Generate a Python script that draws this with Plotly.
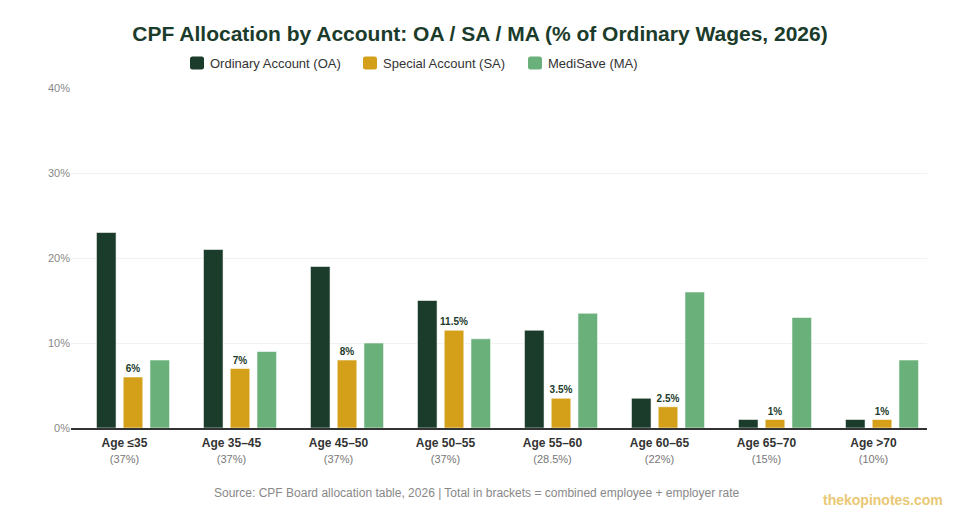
import plotly.graph_objects as go

age_groups = ["Age ≤35", "Age 35–45", "Age 45–50", "Age 50–55", "Age 55–60", "Age 60–65", "Age 65–70", "Age >70"]
total_rates = ["37%", "37%", "37%", "37%", "28.5%", "22%", "15%", "10%"]
oa_values = [23, 21, 19, 15, 11.5, 3.5, 1, 1]
sa_values = [6, 7, 8, 11.5, 3.5, 2.5, 1, 1]
ma_values = [8, 9, 10, 10.5, 13.5, 16, 13, 8]
sa_labels = ["6%", "7%", "8%", "11.5%", "3.5%", "2.5%", "1%", "1%"]
y_ticks = [0, 10, 20, 30, 40]
y_tick_labels = ["0%", "10%", "20%", "30%", "40%"]
series_names = ["Ordinary Account (OA)", "Special Account (SA)", "MediSave (MA)"]

FONT = "Liberation Sans, Arial, sans-serif"
C_OA = "#1b3b2b"
C_SA = "#d4a01a"
C_MA = "#6ab07b"
series_colors = [C_OA, C_SA, C_MA]

# plot area in pixels
L, R, T, B = 71, 927, 88, 428
W, H = 960, 520


def px(x):
    return (x - L) / (R - L)


def py(y):
    return (B - y) / (B - T)


tick_text = [f"<b>{a}</b><br><span style='font-size:11px;color:#777'>({t})</span>"
             for a, t in zip(age_groups, total_rates)]

bar_width = 0.183
offsets = [-0.262, -0.012, 0.238]
line = dict(color="rgba(255,255,255,0.55)", width=1)

fig = go.Figure()
fig.add_bar(name=series_names[0], x=age_groups, y=oa_values, width=bar_width, offset=offsets[0],
            marker=dict(color=C_OA, line=line), hoverinfo="skip")
fig.add_bar(name=series_names[1], x=age_groups, y=sa_values, width=bar_width, offset=offsets[1],
            marker=dict(color=C_SA, line=line),
            text=sa_labels, textposition="outside", cliponaxis=False, constraintext="none",
            textangle=0,
            textfont=dict(family=FONT, size=10, color=C_OA, weight="bold"),
            hoverinfo="skip")
fig.add_bar(name=series_names[2], x=age_groups, y=ma_values, width=bar_width, offset=offsets[2],
            marker=dict(color=C_MA, line=line), hoverinfo="skip")

fig.update_layout(
    width=W, height=H,
    margin=dict(l=L, r=W - R, t=T, b=H - B),
    paper_bgcolor="white", plot_bgcolor="white",
    font=dict(family=FONT, color="#333"),
    title=dict(text="<b>CPF Allocation by Account: OA / SA / MA (% of Ordinary Wages, 2026)</b>",
               x=0.5, xanchor="center", xref="container", y=1 - 34 / H, yanchor="middle",
               yref="container",
               font=dict(family=FONT, size=21, color="#1b3b2b")),
    barmode="overlay",
    showlegend=False,
    xaxis=dict(tickmode="array", tickvals=age_groups, ticktext=tick_text,
               tickfont=dict(family=FONT, size=12, color="#333"),
               showline=True, linecolor="#333", linewidth=2, ticks="",
               ticklabelstandoff=3,
               showgrid=False, fixedrange=True),
    yaxis=dict(range=[0, 40], tickmode="array", tickvals=y_ticks, ticktext=y_tick_labels,
               tickfont=dict(family=FONT, size=11, color="#888"),
               showgrid=True, gridcolor="#f1f1f1", gridwidth=1,
               zeroline=False, showline=False, ticks="", fixedrange=True),
)


def rounded_rect_path(x0, y0, x1, y1, r):
    # pixel coords -> paper coords path with rounded corners
    pts = []
    def P(x, y):
        return f"{px(x)},{py(y)}"
    return (f"M {P(x0 + r, y0)} L {P(x1 - r, y0)} Q {P(x1, y0)} {P(x1, y0 + r)} "
            f"L {P(x1, y1 - r)} Q {P(x1, y1)} {P(x1 - r, y1)} "
            f"L {P(x0 + r, y1)} Q {P(x0, y1)} {P(x0, y1 - r)} "
            f"L {P(x0, y0 + r)} Q {P(x0, y0)} {P(x0 + r, y0)} Z")


# manual legend
legend_x = [190, 363, 528]
legend_y = 63
for name, color, lx in zip(series_names, series_colors, legend_x):
    fig.add_shape(type="path", xref="paper", yref="paper",
                  path=rounded_rect_path(lx, legend_y - 6.5, lx + 14, legend_y + 6.5, 2.5),
                  fillcolor=color, line=dict(width=0))
    fig.add_annotation(text=name, xref="paper", yref="paper", x=px(lx + 18), y=py(legend_y),
                       xanchor="left", yanchor="middle", showarrow=False,
                       font=dict(family=FONT, size=13, color="#333"))

fig.add_annotation(text="Source: CPF Board allocation table, 2026 | Total in brackets = combined employee + employer rate",
                   xref="paper", yref="paper", x=px(477), y=py(493), xanchor="center", yanchor="middle",
                   showarrow=False, font=dict(family=FONT, size=12, color="#888"))
fig.add_annotation(text="<b>thekopinotes.com</b>",
                   xref="paper", yref="paper", x=px(945), y=py(500), xanchor="right", yanchor="middle",
                   showarrow=False, font=dict(family=FONT, size=14, color="#e9c874"))

fig.write_html("out.html", config={"displayModeBar": False},
               post_script="document.body.style.margin='0';")
